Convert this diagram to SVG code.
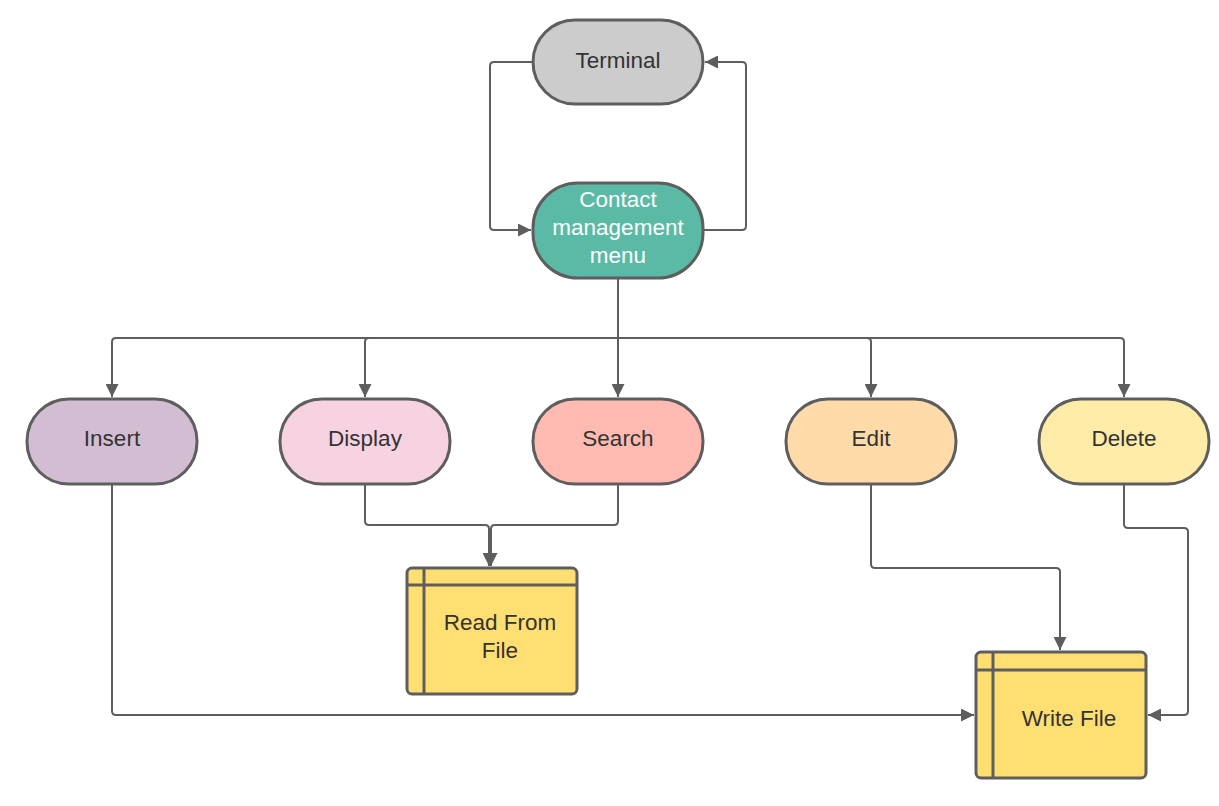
<svg xmlns="http://www.w3.org/2000/svg" width="1219" height="806" viewBox="0 0 1219 806">
<defs>
<marker id="arr" viewBox="0 0 10 10" refX="10" refY="5" markerWidth="9" markerHeight="6.5" markerUnits="strokeWidth" orient="auto">
<path d="M0,0 L10,5 L0,10 z" fill="#5e5e5e"/>
</marker>
<style>
.n{stroke:#5e5e5e;stroke-width:3}
.t{font-family:"Liberation Sans",Arial,sans-serif;font-size:22.5px;fill:#333;text-anchor:middle}
.c{fill:none;stroke:#5e5e5e;stroke-width:2;stroke-linejoin:round}
.w{fill:#fff}
</style>
</defs>
<rect width="1219" height="806" fill="#fff"/>
<g id="connectors">
<path class="c" d="M533,62 H494 Q490,62 490,66 V226 Q490,230 494,230 H531" marker-end="url(#arr)"/>
<path class="c" d="M703,230 H742 Q746,230 746,226 V66 Q746,62 742,62 H705" marker-end="url(#arr)"/>
<path class="c" d="M618,278 V397" marker-end="url(#arr)"/>
<path class="c" d="M618,338 H116 Q112,338 112,342 V397" marker-end="url(#arr)"/>
<path class="c" d="M618,338 H369 Q365,338 365,342 V397" marker-end="url(#arr)"/>
<path class="c" d="M618,338 H867 Q871,338 871,342 V397" marker-end="url(#arr)"/>
<path class="c" d="M618,338 H1120 Q1124,338 1124,342 V397" marker-end="url(#arr)"/>
<path class="c" d="M365,484 V521 Q365,525 369,525 H485 Q489,525 489,529 V566" marker-end="url(#arr)"/>
<path class="c" d="M618,484 V521 Q618,525 614,525 H495 Q491,525 491,529 V566" marker-end="url(#arr)"/>
<path class="c" d="M112,484 V711 Q112,715 116,715 H974" marker-end="url(#arr)"/>
<path class="c" d="M871,484 V564 Q871,568 875,568 H1056 Q1060,568 1060,572 V650" marker-end="url(#arr)"/>
<path class="c" d="M1124,484 V524 Q1124,528 1128,528 H1184 Q1188,528 1188,532 V711 Q1188,715 1184,715 H1148" marker-end="url(#arr)"/>
</g>
<g id="terminal">
<rect class="n" x="533" y="20" width="170" height="84" rx="42" fill="#cccccc"/>
<text class="t" x="618" y="68">Terminal</text>
</g>
<g id="menu">
<rect class="n" x="533" y="183" width="170" height="95" rx="45" fill="#5bbaa6"/>
<text class="t w" x="618" y="207" style="fill:#fff">Contact</text>
<text class="t w" x="618" y="235" style="fill:#fff">management</text>
<text class="t w" x="618" y="263" style="fill:#fff">menu</text>
</g>
<g id="insert">
<rect class="n" x="27" y="399" width="170" height="85" rx="42" fill="#d3bdd3"/>
<text class="t" x="112" y="446">Insert</text>
</g>
<g id="display">
<rect class="n" x="280" y="399" width="170" height="85" rx="42" fill="#f7d2e0"/>
<text class="t" x="365" y="446">Display</text>
</g>
<g id="search">
<rect class="n" x="533" y="399" width="170" height="85" rx="42" fill="#ffbbb1"/>
<text class="t" x="618" y="446">Search</text>
</g>
<g id="edit">
<rect class="n" x="786" y="399" width="170" height="85" rx="42" fill="#fedba9"/>
<text class="t" x="871" y="446">Edit</text>
</g>
<g id="delete">
<rect class="n" x="1039" y="399" width="170" height="85" rx="42" fill="#ffeca8"/>
<text class="t" x="1124" y="446">Delete</text>
</g>
<g id="read">
<rect class="n" x="407" y="568" width="170" height="126" rx="5" fill="#ffdf71"/>
<path class="n" d="M424,568 V694 M407,585 H577" fill="none"/>
<text class="t" x="500" y="630">Read From</text>
<text class="t" x="500" y="658">File</text>
</g>
<g id="write">
<rect class="n" x="976" y="652" width="170" height="126" rx="5" fill="#ffdf71"/>
<path class="n" d="M993,652 V778 M976,670 H1146" fill="none"/>
<text class="t" x="1069" y="726">Write File</text>
</g>
</svg>
